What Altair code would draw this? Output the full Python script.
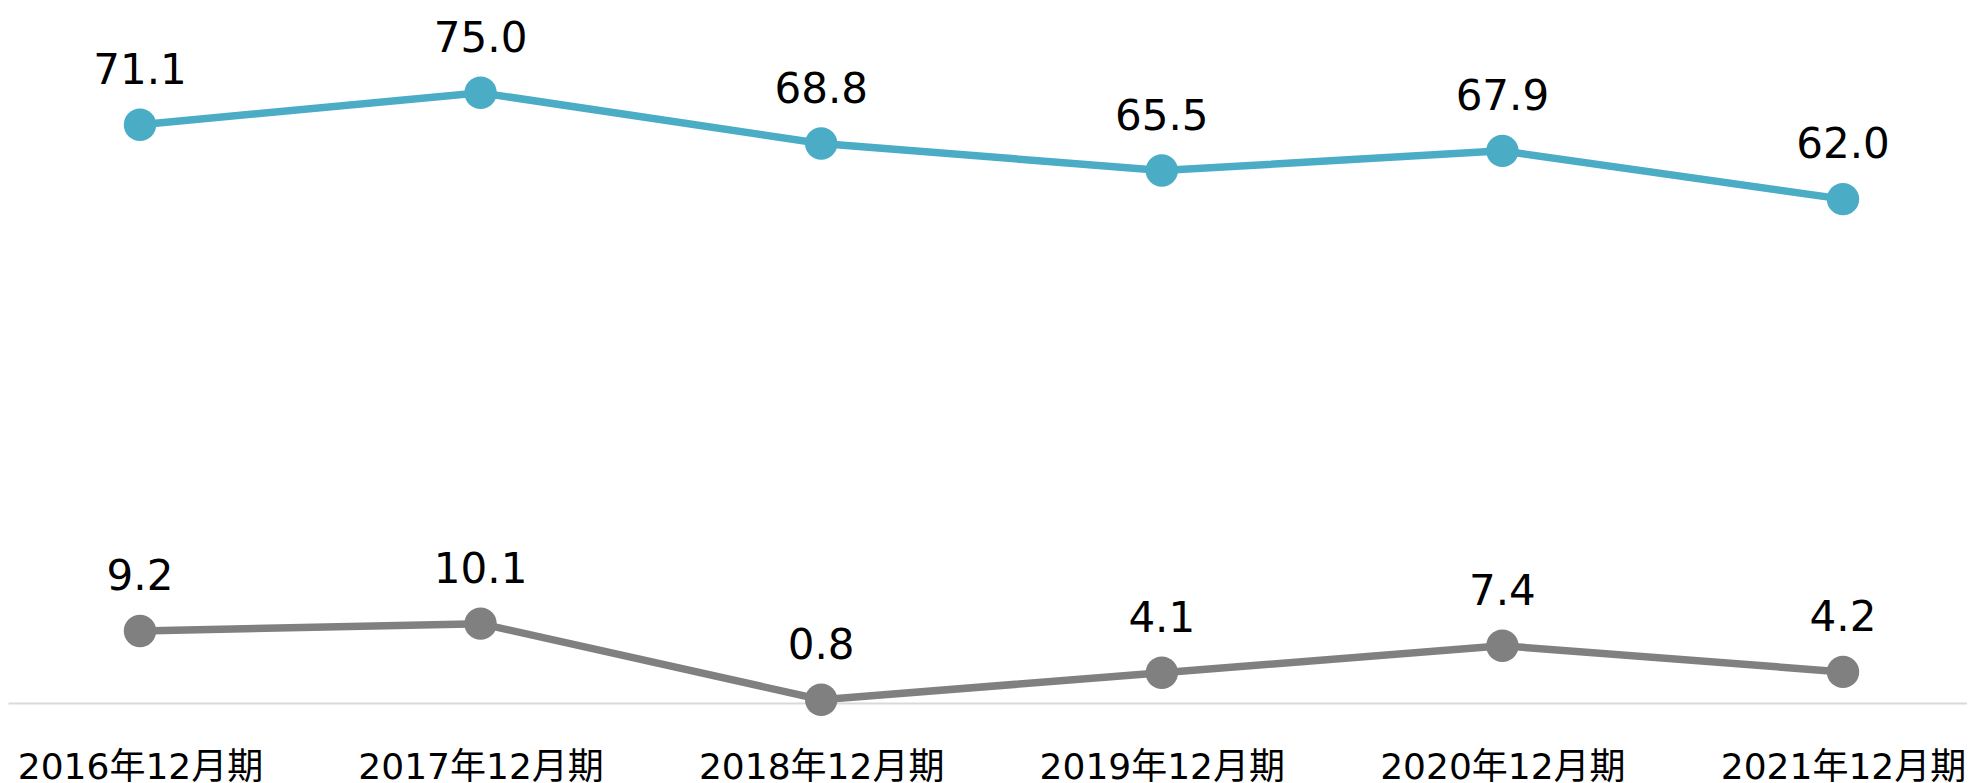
import altair as alt
import pandas as pd

periods = ["2016年12月期", "2017年12月期", "2018年12月期", "2019年12月期", "2020年12月期", "2021年12月期"]
series_upper = [71.1, 75.0, 68.8, 65.5, 67.9, 62.0]
series_lower = [9.2, 10.1, 0.8, 4.1, 7.4, 4.2]
series_names = ["upper", "lower"]
series_colors = ["#4BACC6", "#808080"]

rows = []
for name, vals in zip(series_names, [series_upper, series_lower]):
    for i, (p, v) in enumerate(zip(periods, vals)):
        rows.append({"idx": i, "period": p, "series": name, "value": v})
df = pd.DataFrame(rows)

label_expr = "[" + ",".join("'" + p + "'" for p in periods) + "][datum.value]"

x = alt.X(
    "idx:Q",
    scale=alt.Scale(domain=[-0.3875, 5.3641], nice=False, zero=False),
    axis=alt.Axis(
        title=None, values=list(range(len(periods))), labelExpr=label_expr,
        labelAngle=0, ticks=False, grid=False, labelFlush=False, labelOverlap=False,
        domainColor="#d9d9d9", domainWidth=2,
        labelFontSize=36, labelFont="DejaVu Sans, Noto Sans CJK JP",
        labelColor="#000000", labelPadding=47, labelLimit=0,
    ),
)
y = alt.Y("value:Q", scale=alt.Scale(domain=[0.4, 85], nice=False, zero=False), axis=None)
color = alt.Color("series:N", scale=alt.Scale(domain=series_names, range=series_colors), legend=None)

base = alt.Chart(df)
lines = base.mark_line(strokeWidth=7.5).encode(x=x, y=y, color=color, detail="series:N")
pts = base.mark_circle(size=1050, opacity=1).encode(x=x, y=y, color=color)
labels = base.mark_text(
    dy=-41, baseline="alphabetic", fontSize=42, font="DejaVu Sans", color="#000000"
).encode(x=x, y=y, text=alt.Text("value:Q", format=".1f"))

chart = (
    alt.layer(lines, pts, labels)
    .properties(
        width=1959, height=692,
        padding={"left": 0, "top": 3, "right": 0, "bottom": 0},
    )
    .configure_view(stroke=None)
)
chart.save("out.html", embed_options={"renderer": "svg", "actions": False})
